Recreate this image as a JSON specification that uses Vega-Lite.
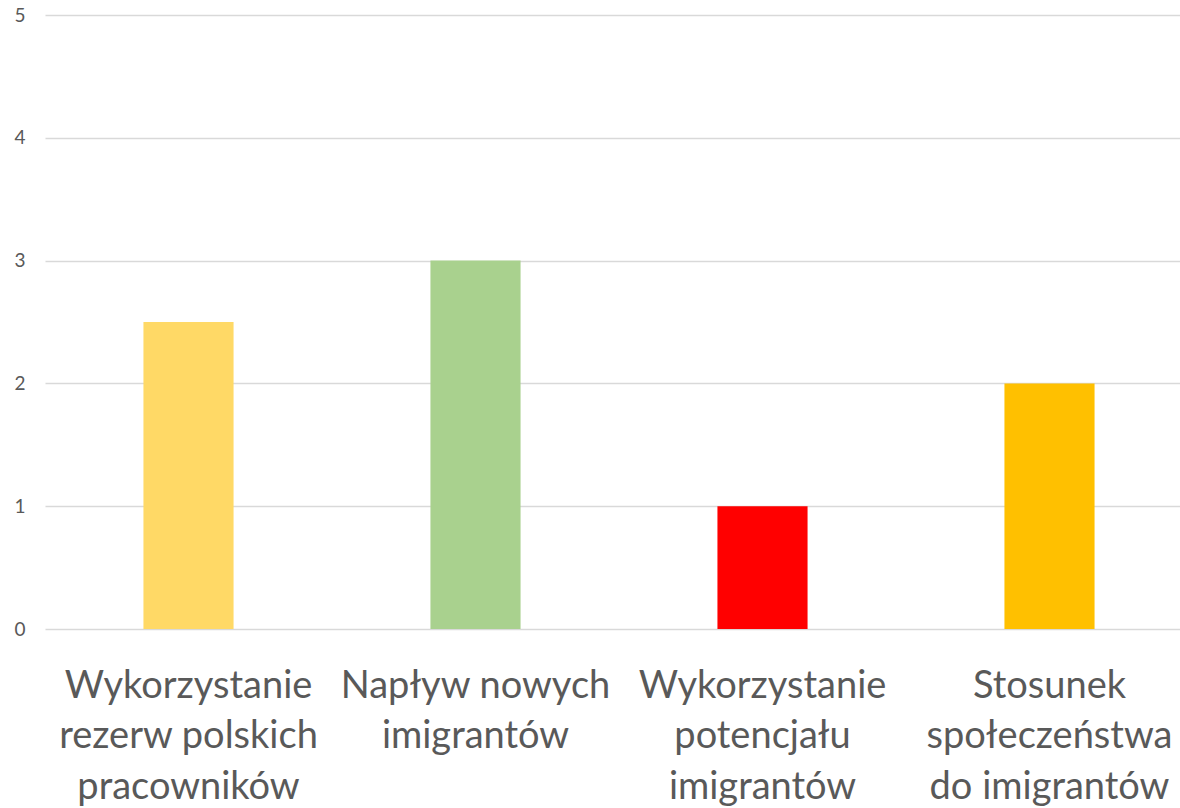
{
  "$schema": "https://vega.github.io/schema/vega-lite/v6.json",
  "width": 1148,
  "height": 614,
  "autosize": {"type": "none"},
  "padding": {"left": 45, "top": 15, "right": 0, "bottom": 179},
  "background": "white",
  "config": {"view": {"stroke": null}},
  "data": {
    "values": [
      {"kategoria": "Wykorzystanie|rezerw polskich|pracowników", "wartosc": 2.5, "kolor": "#FFD966"},
      {"kategoria": "Napływ nowych|imigrantów", "wartosc": 3, "kolor": "#A9D18E"},
      {"kategoria": "Wykorzystanie|potencjału|imigrantów", "wartosc": 1, "kolor": "#FF0000"},
      {"kategoria": "Stosunek|społeczeństwa|do imigrantów", "wartosc": 2, "kolor": "#FFC000"}
    ]
  },
  "mark": {"type": "bar"},
  "encoding": {
    "x": {
      "field": "kategoria",
      "type": "nominal",
      "sort": null,
      "scale": {"paddingInner": 0.686, "paddingOuter": 0.343},
      "axis": {
        "title": null,
        "domain": false,
        "ticks": false,
        "labelAngle": 0,
        "labelExpr": "split(datum.value, '|')",
        "labelFont": "Lato",
        "labelFontSize": 38,
        "labelLineHeight": 50.5,
        "labelColor": "#595959",
        "labelBaseline": "top",
        "labelPadding": 38,
        "labelLimit": 400
      }
    },
    "y": {
      "field": "wartosc",
      "type": "quantitative",
      "scale": {"domain": [0, 5]},
      "axis": {
        "title": null,
        "domain": false,
        "ticks": false,
        "values": [0, 1, 2, 3, 4, 5],
        "labelFont": "Lato",
        "labelFontSize": 19,
        "labelColor": "#595959",
        "labelPadding": 20,
        "gridColor": "#D9D9D9",
        "gridWidth": 1.5
      }
    },
    "color": {"field": "kolor", "type": "nominal", "scale": null, "legend": null}
  }
}
